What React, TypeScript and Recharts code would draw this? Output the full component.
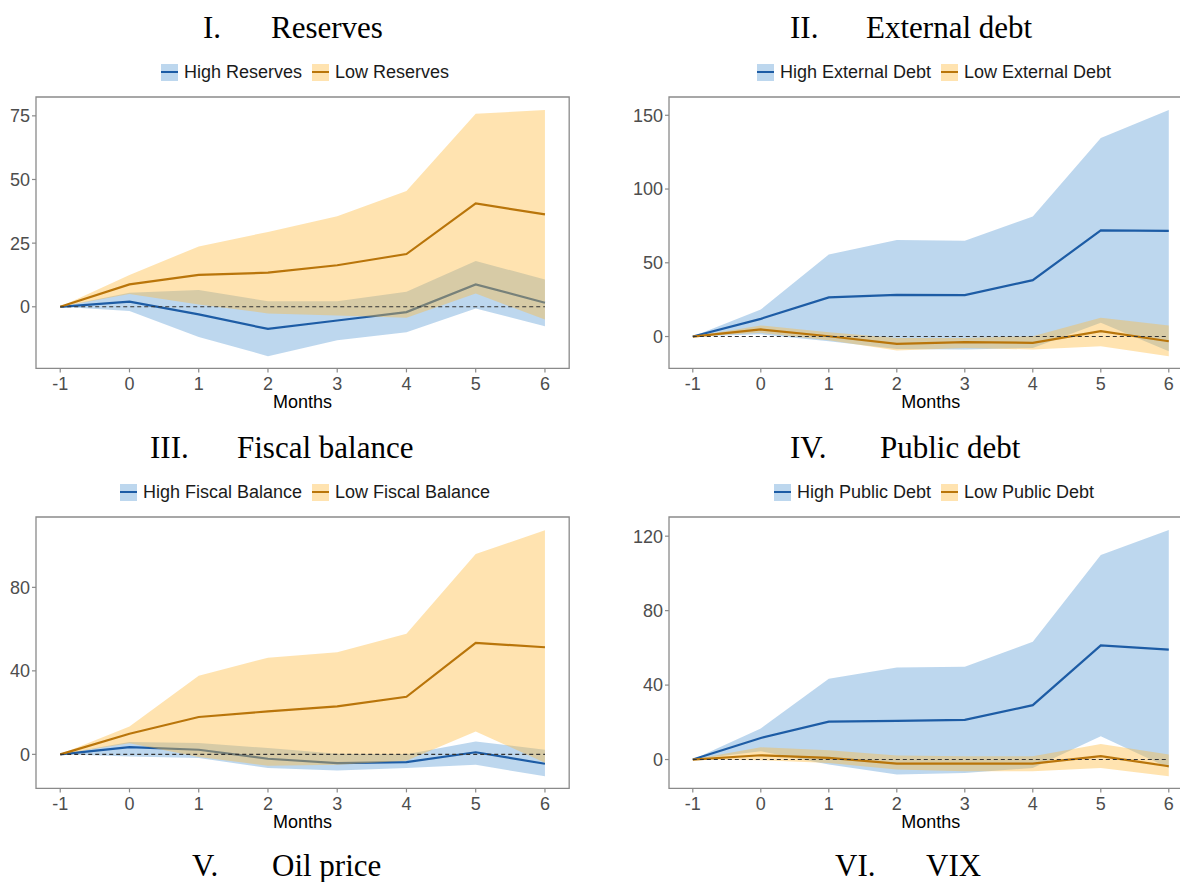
import React from 'react';
import { ComposedChart, Area, Line, XAxis, YAxis, ReferenceLine, ReferenceArea } from 'recharts';

const months = [-1, 0, 1, 2, 3, 4, 5, 6];
const xTicks = [-1, 0, 1, 2, 3, 4, 5, 6];

// I. Reserves
const resHighMean = [0, 2, -3, -8.7, -5.4, -2.1, 8.8, 1.6];
const resHighUp = [0, 5.5, 6.6, 2.2, 2.2, 5.9, 18, 10.7];
const resHighLo = [0, -1.7, -11.9, -19.4, -13.1, -10, -0.7, -7.6];
const resLowMean = [0, 8.8, 12.5, 13.4, 16.3, 20.7, 40.6, 36.3];
const resLowUp = [0, 12.5, 23.7, 29.4, 35.6, 45.5, 75.8, 77.3];
const resLowLo = [0, 5, 0.9, -2.6, -3.4, -4.3, 5.2, -5];
const resTicks = [0, 25, 50, 75];

// II. External debt
const extHighMean = [0, 12, 26.5, 28.3, 28.1, 38.2, 72, 71.7];
const extHighUp = [0, 18.3, 55.7, 65.4, 64.9, 81.4, 134.6, 153.6];
const extHighLo = [0, 1.5, -3.2, -8.4, -8.8, -7.7, 9.3, -10];
const extLowMean = [0, 4.8, 0.2, -5, -3.8, -4.3, 3.6, -3.2];
const extLowUp = [0, 7.5, 2.9, -1, -1, 0.2, 12.7, 7.5];
const extLowLo = [0, 2.5, -2.5, -9.5, -7.7, -8.8, -6.6, -13.3];
const extTicks = [0, 50, 100, 150];

// III. Fiscal balance
const fisHighMean = [0, 3.5, 2.2, -2.1, -4.2, -3.7, 1, -4.5];
const fisHighUp = [0, 5.9, 5.4, 3, 0.3, 0, 6.2, 2.2];
const fisHighLo = [0, -1, -1.8, -6.5, -7.7, -6.5, -5, -10.5];
const fisLowMean = [0, 9.9, 17.9, 20.6, 23, 27.6, 53.4, 51.3];
const fisLowUp = [0, 13.4, 37.7, 46.3, 48.9, 57.8, 96, 107.3];
const fisLowLo = [0, 5.3, -1.3, -5.4, -5, -3, 11, -4];
const fisTicks = [0, 40, 80];

// IV. Public debt
const pubHighMean = [0, 11.6, 20.4, 20.8, 21.3, 29.2, 61.3, 59.1];
const pubHighUp = [0, 16.7, 43.4, 49.5, 49.8, 63.3, 109.9, 123.3];
const pubHighLo = [0, 4.5, -2.7, -8, -7.2, -4.5, 12.5, -4.5];
const pubLowMean = [0, 2.3, 0.9, -2.2, -2.2, -2.2, 1.8, -3.6];
const pubLowUp = [0, 6.6, 5, 2.2, 1.8, 1.8, 8.4, 2.7];
const pubLowLo = [0, -0.4, -1.8, -5.4, -6.3, -6.3, -4.5, -9];
const pubTicks = [0, 40, 80, 120];

const BLUE_FILL = '#5A9BD4';
const ORANGE_FILL = '#FFB939';
const BLUE_LINE = '#1D5CA5';
const ORANGE_LINE = '#B9750A';
const FILL_OP = 0.4;
const FRAME = '#8a8a8a';
const SANS = "'Liberation Sans', Arial, sans-serif";
const SERIF = "'Liberation Serif', 'Times New Roman', serif";

const X_DOMAIN: [number, number] = [-1.35, 6.35];

function buildRows(hm: number[], hu: number[], hl: number[], lm: number[], lu: number[], ll: number[]) {
  return months.map((m, i) => ({
    m,
    hiMean: hm[i],
    hiBand: [hl[i], hu[i]],
    loMean: lm[i],
    loBand: [ll[i], lu[i]],
  }));
}

type PanelProps = {
  plotLeft: number;
  plotTop: number;
  plotW: number;
  plotH: number;
  yDomain: [number, number];
  yTicks: number[];
  rows: any[];
};

const YW = 40;
const XH = 46;
const PAD = 3;

function Panel({ plotLeft, plotTop, plotW, plotH, yDomain, yTicks, rows }: PanelProps) {
  const width = YW + plotW + PAD;
  const height = PAD + plotH + XH;
  const tickStyle = { fontFamily: SANS, fontSize: 18, fill: '#4D4D4D' };
  const z: any = (n: number) => ({ zIndex: n });
  return (
    <div style={{ position: 'absolute', left: plotLeft - YW, top: plotTop - PAD }}>
      <ComposedChart width={width} height={height} data={rows} margin={{ top: PAD, right: PAD, bottom: 0, left: 0 }}>
        <XAxis
          dataKey="m"
          type="number"
          domain={X_DOMAIN}
          ticks={xTicks}
          allowDataOverflow
          height={XH}
          axisLine={false}
          tickSize={4}
          tickMargin={5}
          tickLine={{ stroke: FRAME, strokeWidth: 1.2 }}
          tick={tickStyle}
          interval={0}
          label={{ value: 'Months', position: 'insideBottom', offset: 6, style: { fontFamily: SANS, fontSize: 18, fill: '#000' } }}
        />
        <YAxis
          type="number"
          domain={yDomain}
          ticks={yTicks}
          allowDataOverflow
          width={YW}
          axisLine={false}
          tickSize={4}
          tickMargin={2}
          tickLine={{ stroke: FRAME, strokeWidth: 1.2 }}
          tick={tickStyle}
          interval={0}
        />
        <Area
          {...z(110)}
          dataKey="hiBand"
          type="linear"
          stroke="none"
          fill={BLUE_FILL}
          fillOpacity={FILL_OP}
          isAnimationActive={false}
          dot={false}
          activeDot={false}
        />
        <Line {...z(120)} dataKey="hiMean" type="linear" stroke={BLUE_LINE} strokeWidth={2.2} dot={false} activeDot={false} isAnimationActive={false} />
        <Area
          {...z(130)}
          dataKey="loBand"
          type="linear"
          stroke="none"
          fill={ORANGE_FILL}
          fillOpacity={FILL_OP}
          isAnimationActive={false}
          dot={false}
          activeDot={false}
        />
        <Line {...z(140)} dataKey="loMean" type="linear" stroke={ORANGE_LINE} strokeWidth={2.2} dot={false} activeDot={false} isAnimationActive={false} />
        <ReferenceLine
          {...z(500)}
          segment={[{ x: -1, y: 0 }, { x: 6, y: 0 }]}
          stroke="#333"
          strokeWidth={1.1}
          strokeDasharray="4 3"
          ifOverflow="visible"
        />
        <ReferenceArea
          {...z(600)}
          x1={X_DOMAIN[0]}
          x2={X_DOMAIN[1]}
          y1={yDomain[0]}
          y2={yDomain[1]}
          fill="none"
          fillOpacity={0}
          stroke={FRAME}
          strokeWidth={1.3}
          ifOverflow="visible"
        />
      </ComposedChart>
    </div>
  );
}

function LegendKey({ fill, line }: { fill: string; line: string }) {
  return (
    <span style={{ position: 'relative', display: 'inline-block', width: 17, height: 17, background: fill, opacity: 1 }}>
      <span style={{ position: 'absolute', left: 0, right: 0, top: 7.5, height: 2, background: line }} />
    </span>
  );
}

function Legend({ cx, cy, high, low }: { cx: number; cy: number; high: string; low: string }) {
  return (
    <div
      style={{
        position: 'absolute',
        left: cx - 300,
        top: cy - 10,
        width: 600,
        height: 20,
        display: 'flex',
        justifyContent: 'center',
        alignItems: 'center',
        fontFamily: SANS,
        fontSize: 18,
        color: '#1a1a1a',
        whiteSpace: 'nowrap',
      }}
    >
      <LegendKey fill="#BDD7EE" line={BLUE_LINE} />
      <span style={{ marginLeft: 6, marginRight: 10 }}>{high}</span>
      <LegendKey fill="#FFE3B0" line={ORANGE_LINE} />
      <span style={{ marginLeft: 6 }}>{low}</span>
    </div>
  );
}

function Title({ num, text, numX, textX, baseline }: { num: string; text: string; numX: number; textX: number; baseline: number }) {
  const style: React.CSSProperties = {
    position: 'absolute',
    top: baseline - 26,
    fontFamily: SERIF,
    fontSize: 31,
    lineHeight: '31px',
    color: '#000',
    whiteSpace: 'nowrap',
  };
  return (
    <>
      <div style={{ ...style, left: numX }}>{num}</div>
      <div style={{ ...style, left: textX }}>{text}</div>
    </>
  );
}

export default function App() {
  const resRows = buildRows(resHighMean, resHighUp, resHighLo, resLowMean, resLowUp, resLowLo);
  const extRows = buildRows(extHighMean, extHighUp, extHighLo, extLowMean, extLowUp, extLowLo);
  const fisRows = buildRows(fisHighMean, fisHighUp, fisHighLo, fisLowMean, fisLowUp, fisLowLo);
  const pubRows = buildRows(pubHighMean, pubHighUp, pubHighLo, pubLowMean, pubLowUp, pubLowLo);

  const L1 = 35.8, W1 = 533.2;
  const L2 = 669, W2 = 523.6;
  const T1 = 97.3, T2 = 517.3, H = 271.4;

  return (
    <div style={{ position: 'absolute', left: 0, top: 0, width: 1180, height: 882, overflow: 'hidden', background: '#fff' }}>
      <Title num="I." text="Reserves" numX={203} textX={271} baseline={38} />
      <Title num="II." text="External debt" numX={790} textX={866} baseline={38} />
      <Title num="III." text="Fiscal balance" numX={150} textX={237} baseline={458} />
      <Title num="IV." text="Public debt" numX={790} textX={880} baseline={458} />
      <Title num="V." text="Oil price" numX={192} textX={272} baseline={876} />
      <Title num="VI." text="VIX" numX={835} textX={926} baseline={876} />

      <Legend cx={305} cy={72} high="High Reserves" low="Low Reserves" />
      <Legend cx={934} cy={72} high="High External Debt" low="Low External Debt" />
      <Legend cx={305} cy={492} high="High Fiscal Balance" low="Low Fiscal Balance" />
      <Legend cx={934} cy={492} high="High Public Debt" low="Low Public Debt" />

      <Panel plotLeft={L1} plotTop={T1} plotW={W1} plotH={H} yDomain={[-24.2, 82.4]} yTicks={resTicks} rows={resRows} />
      <Panel plotLeft={L2} plotTop={T1} plotW={W2} plotH={H} yDomain={[-21.6, 162.4]} yTicks={extTicks} rows={extRows} />
      <Panel plotLeft={L1} plotTop={T2} plotW={W1} plotH={H} yDomain={[-16.3, 113.7]} yTicks={fisTicks} rows={fisRows} />
      <Panel plotLeft={L2} plotTop={T2} plotW={W2} plotH={H} yDomain={[-15.5, 130.3]} yTicks={pubTicks} rows={pubRows} />
    </div>
  );
}
